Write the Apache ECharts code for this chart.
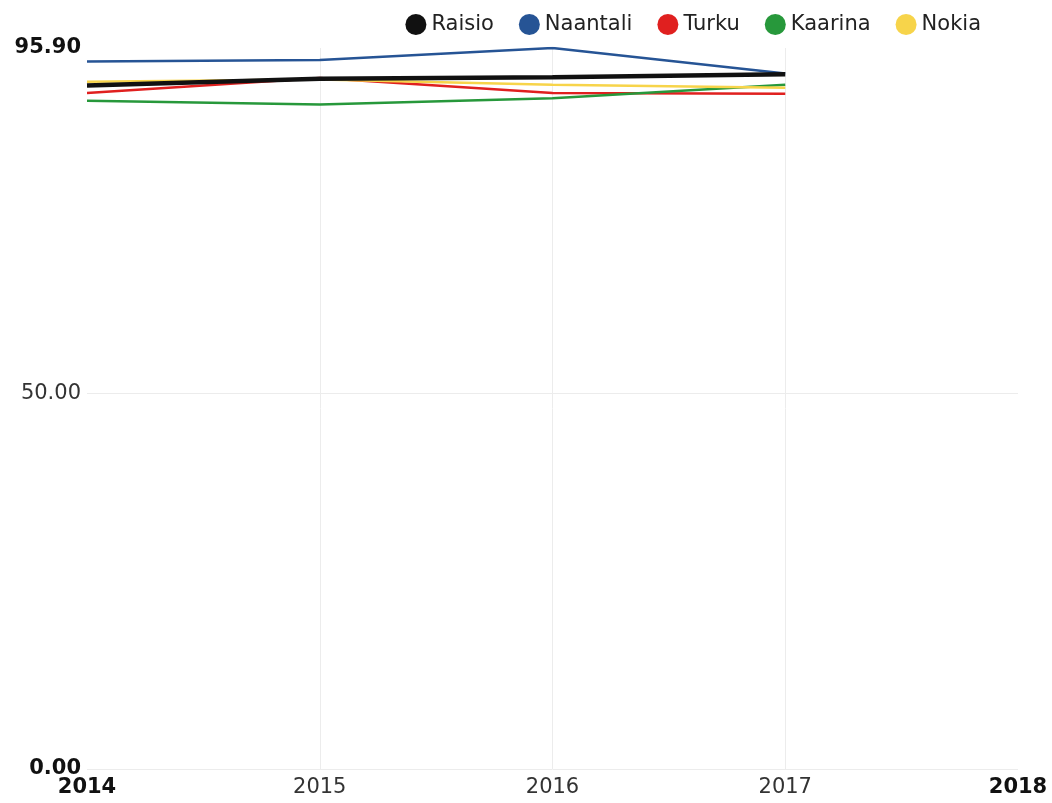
<!DOCTYPE html>
<html>
<head>
<meta charset="utf-8">
<script src="https://cdn.jsdelivr.net/npm/echarts@6/dist/echarts.min.js"></script>
<style>
  html, body { margin: 0; padding: 0; background: #fff; }
  #chart { width: 1052px; height: 803px; }
</style>
</head>
<body>
<div id="chart"></div>
<script>
// Years on the horizontal axis
const years = [2014, 2015, 2016, 2017];
const yearMin = 2014;
const yearMax = 2018;
const valueMax = 95.9;

// Values per municipality
const raisio   = [90.9, 91.8, 92.0, 92.4];
const naantali = [94.1, 94.3, 95.9, 92.5];
const turku    = [89.9, 91.9, 89.9, 89.8];
const kaarina  = [88.9, 88.4, 89.2, 91.0];
const nokia    = [91.4, 91.7, 91.0, 90.6];

const seriesDefs = [
  { name: 'Raisio',   values: raisio,   color: '#111111', width: 4.5 },
  { name: 'Naantali', values: naantali, color: '#265495', width: 2.5 },
  { name: 'Turku',    values: turku,    color: '#e0201f', width: 2.5 },
  { name: 'Kaarina',  values: kaarina,  color: '#27983b', width: 2.5 },
  { name: 'Nokia',    values: nokia,    color: '#f7d44a', width: 2.5 }
];

const font = 'DejaVu Sans';
const fs = 21;
const chart = echarts.init(document.getElementById('chart'));

chart.setOption({
  animation: false,
  legend: {
    top: 9,
    right: 66,
    icon: 'circle',
    itemWidth: 21,
    itemHeight: 21,
    itemGap: 25,
    textStyle: { fontFamily: font, fontSize: fs, color: '#222' },
    data: seriesDefs.map(s => s.name)
  },
  grid: { left: 87, right: 34, top: 48, bottom: 34 },
  xAxis: {
    type: 'value',
    min: yearMin,
    max: yearMax,
    interval: 1,
    axisLine: { show: false },
    axisTick: { show: false },
    splitLine: { show: true, showMinLine: false, showMaxLine: false, lineStyle: { color: '#ececec', width: 1 } },
    axisLabel: {
      margin: 8,
      fontFamily: font,
      fontSize: fs,
      color: '#333',
      formatter: v => (v === yearMin || v === yearMax) ? '{b|' + v + '}' : String(v),
      rich: { b: { fontFamily: font, fontSize: fs, fontWeight: 'bold', color: '#111' } }
    }
  },
  yAxis: {
    type: 'value',
    min: 0,
    max: valueMax,
    interval: 50,
    axisLine: { show: false },
    axisTick: { show: false },
    splitLine: { show: true, showMaxLine: false, lineStyle: { color: '#ececec', width: 1 } },
    axisLabel: {
      margin: 6,
      fontFamily: font,
      fontSize: fs,
      color: '#333',
      formatter: v => (v === 0 || v === valueMax) ? '{b|' + v.toFixed(2) + '}' : v.toFixed(2),
      rich: { b: { fontFamily: font, fontSize: fs, fontWeight: 'bold', color: '#111' } }
    }
  },
  series: seriesDefs.map(s => ({
    name: s.name,
    type: 'line',
    data: years.map((y, i) => [y, s.values[i]]),
    showSymbol: false,
    symbol: 'circle',
    color: s.color,
    lineStyle: { color: s.color, width: s.width },
    z: s.name === 'Raisio' ? 3 : 2
  }))
});
</script>
</body>
</html>
